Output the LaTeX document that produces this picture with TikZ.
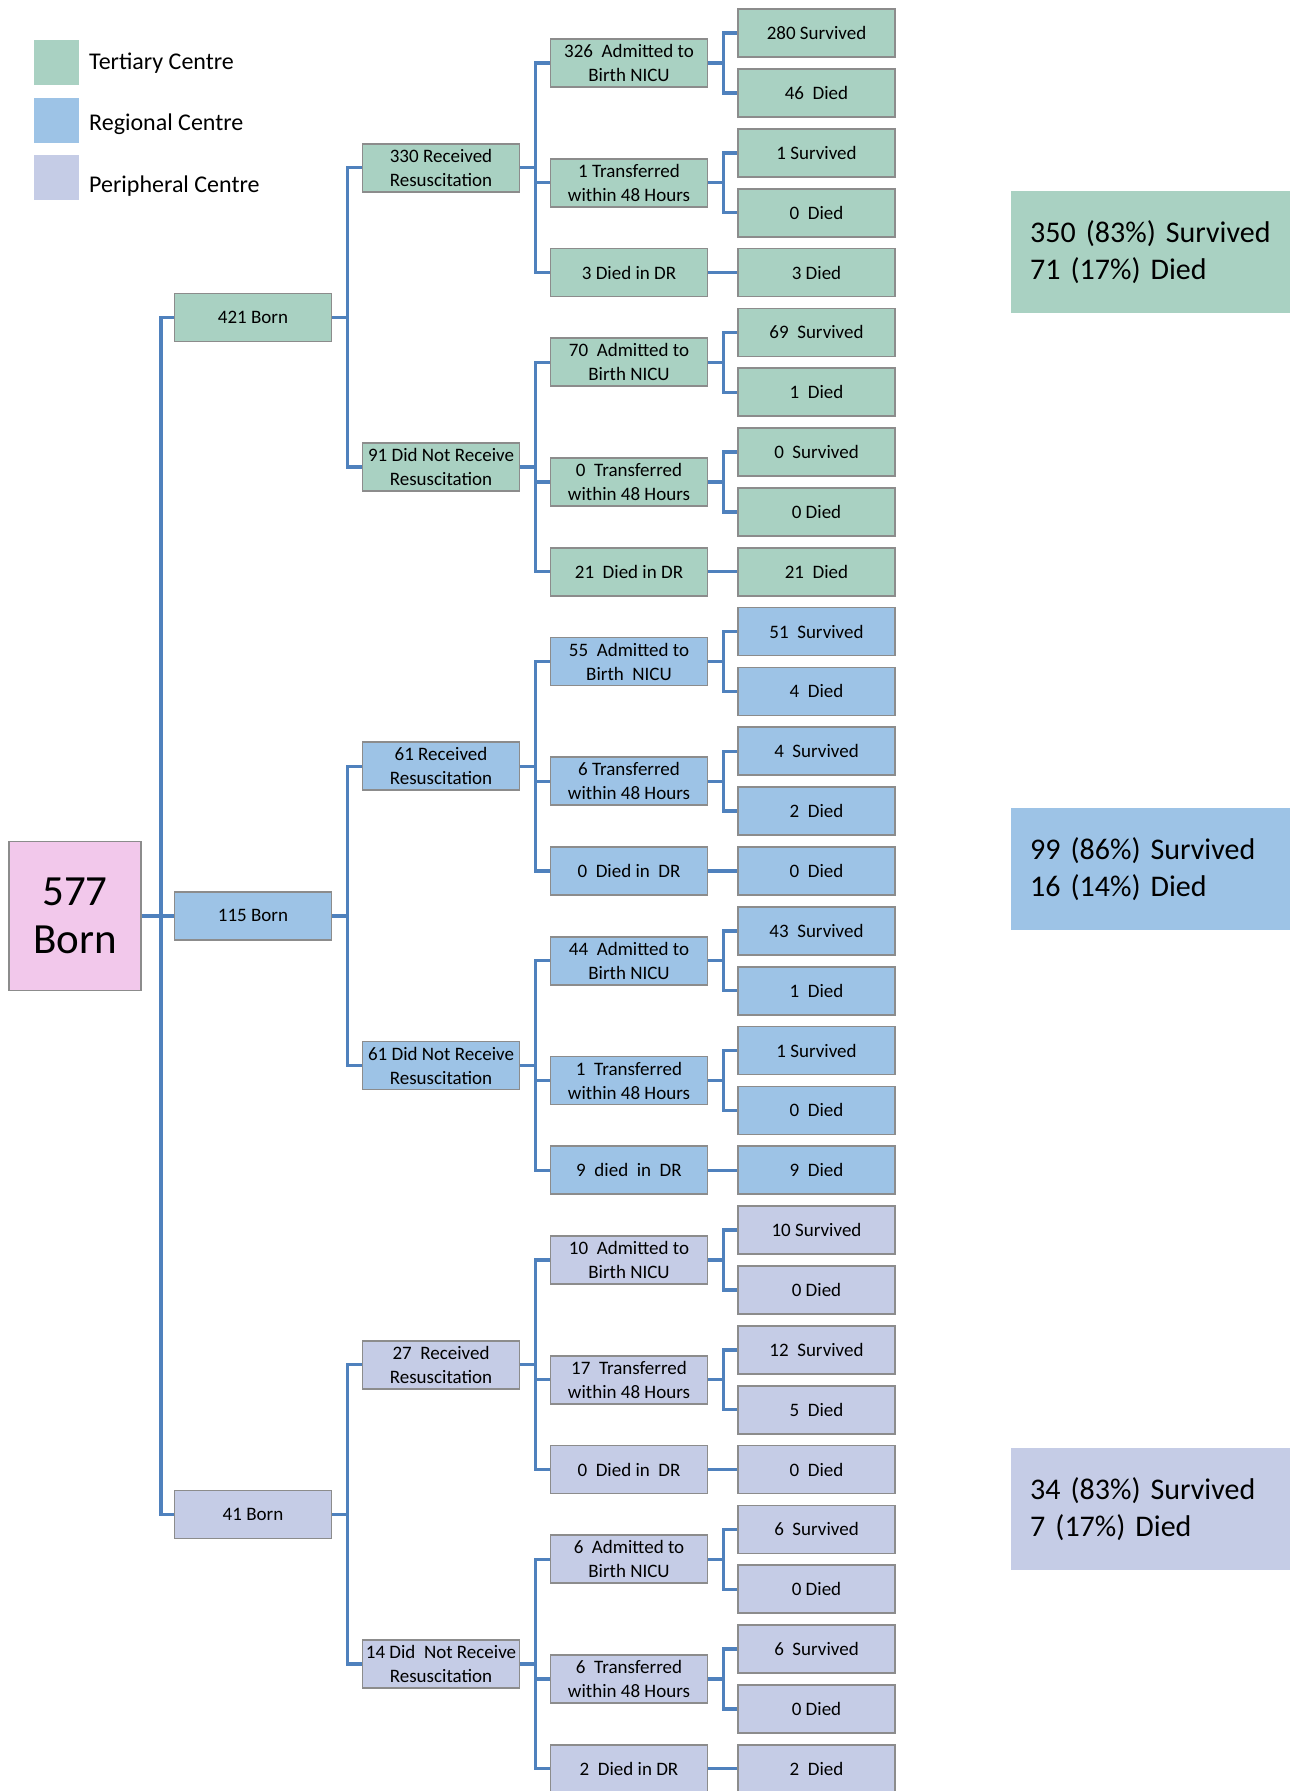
\documentclass[tikz,border=0pt]{standalone}
\usepackage{fontspec}
\setmainfont{Carlito}
\definecolor{ter}{RGB}{169,209,194}
\definecolor{reg}{RGB}{157,195,230}
\definecolor{per}{RGB}{197,204,230}
\definecolor{pinkc}{RGB}{242,200,235}
\definecolor{conn}{RGB}{79,129,189}
\definecolor{bord}{RGB}{140,140,140}
\newcommand\rowy[1]{{33.1+59.85*(#1)}}
\begin{document}
\begin{tikzpicture}[x=1pt,y=-1pt,
  box/.style={draw=bord,line width=1.7pt,minimum width=157pt,minimum height=48pt,inner sep=0pt,align=center,font=\fontsize{19}{24}\selectfont},
  wire/.style={draw=conn,line width=3.4pt},
  legsq/.style={minimum size=45pt,inner sep=0pt},
  legtx/.style={anchor=west,inner sep=0pt,font=\fontsize{24}{29}\selectfont},
  summ/.style={anchor=north west,text width=241pt,inner xsep=19pt,inner ysep=0pt,minimum height=122pt,align=left,font=\fontsize{30}{37}\selectfont}]
\useasboundingbox (0,0) rectangle (1290,1791);

% legend
\node[legsq,fill=ter] (lg1) at (56.5,62.5) {};
\node[legsq,fill=reg] (lg2) at (56.5,120.5) {};
\node[legsq,fill=per] (lg3) at (56.5,177.5) {};
\node[legtx] (lt1) at (89,63.5) {Tertiary Centre};
\node[legtx] (lt2) at (89,124.5) {Regional Centre};
\node[legtx] (lt3) at (89,186.5) {Peripheral Centre};

% summaries
\node[summ,fill=ter] (s1) at (1011,191) {\raisebox{-3pt}{\parbox{241pt}{350 (83\%) Survived\\71 (17\%) Died}}};
\node[summ,fill=reg] (s2) at (1011,808) {\raisebox{-3pt}{\parbox{241pt}{99 (86\%) Survived\\16 (14\%) Died}}};
\node[summ,fill=per] (s3) at (1011,1448) {\raisebox{-3pt}{\parbox{241pt}{34 (83\%) Survived\\7 (17\%) Died}}};

% leaves
\foreach \i/\t/\c in {
 0/280 Survived/ter, 1/46~ Died/ter, 2/1 Survived/ter, 3/0~ Died/ter, 4/3 Died/ter,
 5/69~ Survived/ter, 6/1~ Died/ter, 7/0~ Survived/ter, 8/0 Died/ter, 9/21~ Died/ter,
 10/51~ Survived/reg, 11/4~ Died/reg, 12/4~ Survived/reg, 13/2~ Died/reg, 14/0~ Died/reg,
 15/43~ Survived/reg, 16/1~ Died/reg, 17/1 Survived/reg, 18/0~ Died/reg, 19/9~ Died/reg,
 20/10 Survived/per, 21/0 Died/per, 22/12~ Survived/per, 23/5~ Died/per, 24/0~ Died/per,
 25/6~ Survived/per, 26/0 Died/per, 27/6~ Survived/per, 28/0 Died/per, 29/2~ Died/per}
 \node[box,fill=\c] (l\i) at (816.5,\rowy{\i}) {\t};

% level 3
\node[box,fill=ter] (a0) at (629,\rowy{0.5}) {326~ Admitted to\\Birth NICU};
\node[box,fill=ter] (t0) at (629,\rowy{2.5}) {1 Transferred\\within 48 Hours};
\node[box,fill=ter] (d0) at (629,\rowy{4}) {3 Died in DR};
\node[box,fill=ter] (a1) at (629,\rowy{5.5}) {70~ Admitted to\\Birth NICU};
\node[box,fill=ter] (t1) at (629,\rowy{7.5}) {0~ Transferred\\within 48 Hours};
\node[box,fill=ter] (d1) at (629,\rowy{9}) {21~ Died in DR};
\node[box,fill=reg] (a2) at (629,\rowy{10.5}) {55~ Admitted to\\Birth~ NICU};
\node[box,fill=reg] (t2) at (629,\rowy{12.5}) {6 Transferred\\within 48 Hours};
\node[box,fill=reg] (d2) at (629,\rowy{14}) {0~ Died in~ DR};
\node[box,fill=reg] (a3) at (629,\rowy{15.5}) {44~ Admitted to\\Birth NICU};
\node[box,fill=reg] (t3) at (629,\rowy{17.5}) {1~ Transferred\\within 48 Hours};
\node[box,fill=reg] (d3) at (629,\rowy{19}) {9~ died~ in~ DR};
\node[box,fill=per] (a4) at (629,\rowy{20.5}) {10~ Admitted to\\Birth NICU};
\node[box,fill=per] (t4) at (629,\rowy{22.5}) {17~ Transferred\\within 48 Hours};
\node[box,fill=per] (d4) at (629,\rowy{24}) {0~ Died in~ DR};
\node[box,fill=per] (a5) at (629,\rowy{25.5}) {6~ Admitted to\\Birth NICU};
\node[box,fill=per] (t5) at (629,\rowy{27.5}) {6~ Transferred\\within 48 Hours};
\node[box,fill=per] (d5) at (629,\rowy{29}) {2~ Died in DR};

% level 2
\node[box,fill=ter] (r0) at (441,\rowy{2.25}) {330 Received\\Resuscitation};
\node[box,fill=ter] (r1) at (441,\rowy{7.25}) {91 Did Not Receive\\Resuscitation};
\node[box,fill=reg] (r2) at (441,\rowy{12.25}) {61 Received\\Resuscitation};
\node[box,fill=reg] (r3) at (441,\rowy{17.25}) {61 Did Not Receive\\Resuscitation};
\node[box,fill=per] (r4) at (441,\rowy{22.25}) {27~ Received\\Resuscitation};
\node[box,fill=per] (r5) at (441,\rowy{27.25}) {14 Did~ Not Receive\\Resuscitation};

% level 1
\node[box,fill=ter] (b0) at (253,\rowy{4.75}) {421 Born};
\node[box,fill=reg] (b1) at (253,\rowy{14.75}) {115 Born};
\node[box,fill=per] (b2) at (253,\rowy{24.75}) {41 Born};

% root
\node[draw=bord,fill=pinkc,line width=1.7pt,minimum width=132pt,minimum height=149pt,inner sep=0pt,align=center,font=\fontsize{43}{48}\selectfont] (root) at (75,\rowy{14.75}) {577\\Born};

% connectors
\foreach \j in {0,...,5}{
  \pgfmathtruncatemacro\la{5*\j}
  \pgfmathtruncatemacro\lb{5*\j+1}
  \pgfmathtruncatemacro\lc{5*\j+2}
  \pgfmathtruncatemacro\ld{5*\j+3}
  \pgfmathtruncatemacro\le{5*\j+4}
  \draw[wire] (a\j.east) -- ++(15,0) |- (l\la.west);
  \draw[wire] (a\j.east) -- ++(15,0) |- (l\lb.west);
  \draw[wire] (t\j.east) -- ++(15,0) |- (l\lc.west);
  \draw[wire] (t\j.east) -- ++(15,0) |- (l\ld.west);
  \draw[wire] (d\j.east) -- (l\le.west);
  \draw[wire] (r\j.east) -- ++(15,0) |- (a\j.west);
  \draw[wire] (r\j.east) -- ++(15,0) |- (t\j.west);
  \draw[wire] (r\j.east) -- ++(15,0) |- (d\j.west);
}
\foreach \k in {0,1,2}{
  \pgfmathtruncatemacro\ra{2*\k}
  \pgfmathtruncatemacro\rb{2*\k+1}
  \draw[wire] (b\k.east) -- ++(15,0) |- (r\ra.west);
  \draw[wire] (b\k.east) -- ++(15,0) |- (r\rb.west);
  \draw[wire] (root.east) -- ++(19,0) |- (b\k.west);
}
\end{tikzpicture}
\end{document}
